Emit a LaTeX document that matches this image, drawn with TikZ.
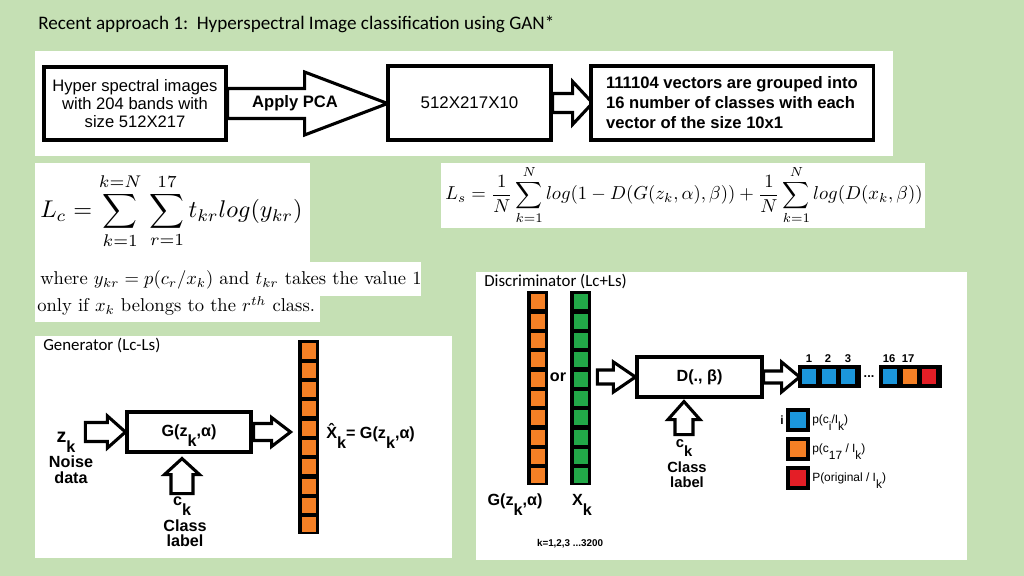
\documentclass[tikz,border=0pt]{standalone}
\usepackage{graphicx}
\usepackage{fontspec}
\newfontfamily\arial{Liberation Sans}
\newfontfamily\calibri{Carlito}
\usetikzlibrary{calc,positioning}

\definecolor{bggreen}{RGB}{197,224,180}
\definecolor{corange}{RGB}{245,128,37}
\definecolor{cgreen}{RGB}{34,168,72}
\definecolor{cblue}{RGB}{27,150,219}
\definecolor{cred}{RGB}{228,30,38}

\newcommand\lowk[1]{\raisebox{-0.62em}[0pt][0pt]{#1}}
% column of 10 cells, left x, top y, colour
\newcommand\cellcol[3]{%
  \fill (#1,#2) rectangle ++(21,194);
  \foreach \i in {0,...,9}
    \fill[#3] ({#1+3.5},{#2+3.5+\i*19.3}) rectangle ++(14,15);
}

\tikzset{
  blk/.style={draw, line width=2.2pt, fill=white, inner sep=0pt, align=center,
    font=\arial\fontsize{12}{13.2}\selectfont},
  lbl/.style={inner sep=0pt, align=center, font=\arial\bfseries\fontsize{11.5}{11.3}\selectfont},
  fat/.style={draw, line width=2.2pt, fill=white, line join=miter},
  pics/rarrow/.style args={#1/#2/#3/#4}{code={
    \draw[fat] (0,-#2) -- ({#1-#4},-#2) -- ({#1-#4},-#3) -- (#1,0)
      -- ({#1-#4},#3) -- ({#1-#4},#2) -- (0,#2) -- cycle;}},
}

\begin{document}
\begin{tikzpicture}[x=0.025cm,y=-0.025cm]
\useasboundingbox (0,0) rectangle (1024,576);
\fill[bggreen] (0,0) rectangle (1024,576);

\node[anchor=base west, inner sep=0pt, font=\calibri\fontsize{13.6}{15}\selectfont] (title) at (38,30)
  {Recent approach 1:\ \ Hyperspectral Image classification using GAN*};

% top flow
\fill[white] (35,51) rectangle (893,156);
\node[blk, minimum width=4.55cm, minimum height=1.825cm, font=\arial\fontsize{11.8}{13.1}\selectfont] (hsi) at (135,103.5)
  {Hyper spectral images\\with 204 bands with\\size 512X217};
\pic at (hsi.east) {rarrow=160/15/31.5/83};
\node[lbl, font=\arial\bfseries\fontsize{11.8}{13}\selectfont] (pca) at (295,103) {Apply PCA};
\node[blk, minimum width=4.075cm, minimum height=1.85cm] (pcaout) at (469.5,103) {512X217X10};
\pic at (pcaout.east) {rarrow=40/9.5/21.5/20};
\node[blk, minimum width=7.05cm, minimum height=1.85cm, align=left,
  font=\arial\bfseries\fontsize{11.8}{14.2}\selectfont] (vecs) at (732,103)
  {111104 vectors are grouped into\\16 number of classes with each\\vector of the size 10x1};

% Lc
\fill[white] (35,163) rectangle (310,262);
\fill[white] (35,262) rectangle (421,296);
\fill[white] (35,296) rectangle (320,322);
\node[anchor=west, inner sep=0pt] (lc) at (40,211)
  {\scalebox{1.72}{$\displaystyle L_c = \sum_{k=1}^{k=N}\,\sum_{r=1}^{17} t_{kr}log(y_{kr})$}};
\node[anchor=base west, inner sep=0pt] (lcwhere) at (40,285)
  {\scalebox{1.32}{where $y_{kr} = p(c_r/x_k)$ and $t_{kr}$ takes the value 1}};
\node[anchor=base west, inner sep=0pt] (lconly) at (37,312)
  {\scalebox{1.32}{only if $x_k$ belongs to the $r^{th}$ class.}};

% Ls
\fill[white] (441,163) rectangle (925,228);
\node[inner sep=0pt] (ls) at (684,195)
  {\scalebox{1.33}{$\displaystyle L_s = \frac{1}{N}\sum_{k=1}^{N} log(1-D(G(z_k,\alpha),\beta)) + \frac{1}{N}\sum_{k=1}^{N} log(D(x_k,\beta))$}};

% generator
\fill[white] (35,336) rectangle (452,558);
\node[anchor=base west, inner sep=0pt, font=\calibri\fontsize{12}{14}\selectfont] (gentitle) at (43,351) {Generator (Lc-Ls)};
\node[blk, minimum width=3.1cm, minimum height=1cm, font=\arial\bfseries\fontsize{11.5}{13}\selectfont] (gbox) at (189,432)
  {G(z\lowk{k},α)};
\pic at ([xshift=-1cm]gbox.west) {rarrow=40/9.5/16/18};
\node[lbl, anchor=base] (zk) at (66,442) {{\fontsize{14}{14}\selectfont z}\lowk{k}};
\node[lbl, anchor=base] (noise) at (71,483) {Noise\\data};
\pic[rotate=90] at ([xshift=-0.175cm,yshift=-1cm]gbox.south) {rarrow=35/11/17.5/16};
\node[lbl, anchor=base] (gck) at (182,505) {c\lowk{k}};
\node[lbl, anchor=base, font=\arial\bfseries\fontsize{11.5}{10.6}\selectfont] (gcls) at (185,546) {Class\\label};
\pic at ([xshift=0.025cm]gbox.east) {rarrow=37/8.5/14.5/19};
\cellcol{298}{340}{corange}
\node[lbl, anchor=base west] (xhat) at (326,438) {\^{X}\lowk{k}= G(z\lowk{k},α)};

% discriminator
\fill[white] (476,272) rectangle (967,560);
\node[anchor=base west, inner sep=0pt, font=\calibri\fontsize{12}{14}\selectfont] (distitle) at (484,287) {Discriminator (Lc+Ls)};
\cellcol{527}{291}{corange}
\cellcol{570}{291}{cgreen}
\node[lbl, anchor=base] (or) at (558,382) {or};
\node[lbl, anchor=base] (fake) at (515,505) {G(z\lowk{k},α)};
\node[lbl, anchor=base] (real) at (582,505) {X\lowk{k}};
\node[lbl, anchor=base, font=\arial\bfseries\fontsize{7}{8}\selectfont] (krange) at (570,546) {k=1,2,3 ...3200};
\node[blk, minimum width=3.125cm, minimum height=1cm, font=\arial\bfseries\fontsize{11.5}{13}\selectfont] (dbox) at (699.5,377) {D(., β)};
\pic at ([xshift=-0.95cm]dbox.west) {rarrow=38/7/15/22};
\pic[rotate=90] at ([xshift=-0.3875cm,yshift=-0.9cm]dbox.south) {rarrow=33/9/16/18};
\node[lbl, anchor=base, font=\arial\bfseries\fontsize{10.5}{10.5}\selectfont] (dck) at (684,447) {c\lowk{k}};
\node[lbl, anchor=base, font=\arial\bfseries\fontsize{10.5}{10.6}\selectfont] (dcls) at (687,487) {Class\\label};
\pic at (dbox.east) {rarrow=36/6/15/18};

% outputs
\fill (798,365) rectangle (861,388);
\fill (879,365) rectangle (942,388);
\foreach \j/\c in {0/cblue,1/cblue,2/cblue}
  \fill[\c] ({802+\j*19.5},369) rectangle ++(14,15);
\foreach \j/\c in {0/cblue,1/corange,2/cred}
  \fill[\c] ({883+\j*19.5},369) rectangle ++(14,15);
\foreach \n/\x in {1/809,2/828,3/848,16/889,17/908}
  \node[anchor=base, inner sep=0pt, font=\arial\bfseries\fontsize{8}{9}\selectfont] (num\n) at (\x,362) {\n};
\node[anchor=base, inner sep=0pt, font=\arial\bfseries\fontsize{9}{9}\selectfont] (dots) at (869,377) {...};

% legend
\foreach \y/\c in {410/cblue,439/corange,468/cred}
  \draw[line width=2.2pt, fill=\c] (788,\y) rectangle ++(20,20);
\node[anchor=base, inner sep=0pt, font=\arial\bfseries\fontsize{8.5}{9}\selectfont] (lgidx) at (782,424) {i};
\node[anchor=base west, inner sep=0pt, font=\arial\fontsize{8.5}{9}\selectfont] (lgi) at (812,423) {p(c\lowk{i}/I\lowk{k})};
\node[anchor=base west, inner sep=0pt, font=\arial\fontsize{8.5}{9}\selectfont] (lg17) at (812,452) {p(c\lowk{17} / I\lowk{k})};
\node[anchor=base west, inner sep=0pt, font=\arial\fontsize{8.5}{9}\selectfont] (lgorig) at (812,481) {P(original / I\lowk{k})};
\end{tikzpicture}
\end{document}
